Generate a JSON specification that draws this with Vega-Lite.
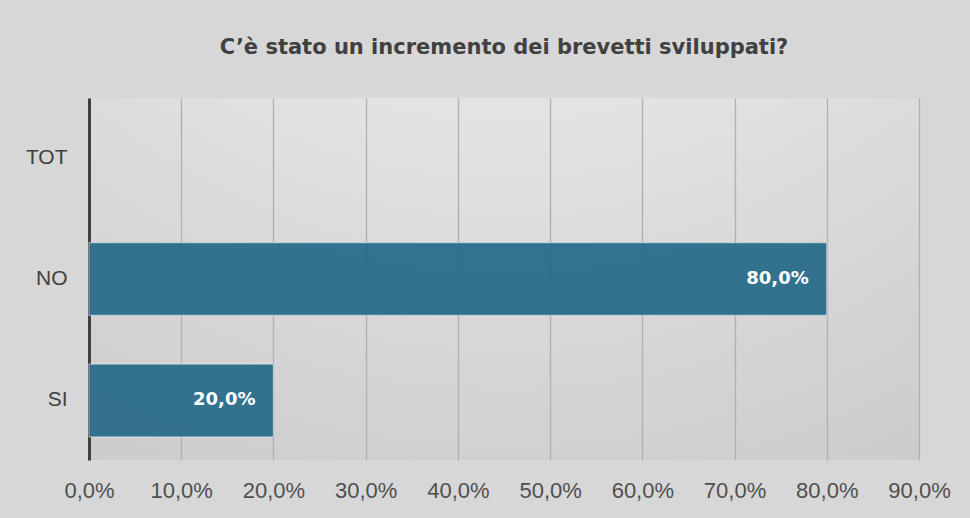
{
  "$schema": "https://vega.github.io/schema/vega-lite/v6.json",
  "width": 830,
  "height": 362,
  "autosize": {"type": "none"},
  "padding": {"left": 89, "top": 98, "right": 51, "bottom": 58},
  "background": "#d7d7d7",
  "title": {
    "text": "C’è stato un incremento dei brevetti sviluppati?",
    "font": "DejaVu Sans",
    "fontSize": 21,
    "fontWeight": "bold",
    "color": "#404040",
    "anchor": "middle",
    "offset": 40
  },
  "config": {
    "locale": {"number": {"decimal": ",", "thousands": ".", "grouping": [3], "currency": ["€", ""]}},
    "view": {
      "stroke": null,
      "fill": {
        "gradient": "radial",
        "x1": 0.5, "y1": -0.3, "r1": 0,
        "x2": 0.5, "y2": -0.3, "r2": 1.15,
        "stops": [
          {"offset": 0, "color": "#fdfdfd"},
          {"offset": 1, "color": "#cbcbcb"}
        ]
      }
    }
  },
  "data": {
    "values": [
      {"risposta": "TOT", "valore": null},
      {"risposta": "NO", "valore": 0.8},
      {"risposta": "SI", "valore": 0.2}
    ]
  },
  "encoding": {
    "y": {
      "field": "risposta",
      "type": "nominal",
      "sort": null,
      "scale": {"domain": ["TOT", "NO", "SI"], "paddingInner": 0.4, "paddingOuter": 0.19},
      "axis": {
        "title": null,
        "ticks": false,
        "domainColor": "#404040",
        "domainWidth": 3,
        "labelFont": "Liberation Sans",
        "labelFontSize": 21,
        "labelColor": "#404040",
        "labelPadding": 22
      }
    },
    "x": {
      "field": "valore",
      "type": "quantitative",
      "scale": {"domain": [0, 0.9], "nice": false},
      "axis": {
        "title": null,
        "format": ".1%",
        "values": [0, 0.1, 0.2, 0.3, 0.4, 0.5, 0.6, 0.7, 0.8, 0.9],
        "ticks": false,
        "domain": false,
        "grid": true,
        "gridColor": "#b0b0b0",
        "gridWidth": 1.3,
        "labelFlush": false,
        "labelFont": "Liberation Sans",
        "labelFontSize": 22,
        "labelColor": "#4f4f4f",
        "labelPadding": 20
      }
    }
  },
  "layer": [
    {
      "mark": {"type": "bar", "color": "#2b6d8c", "opacity": 0.95, "stroke": "#ffffff", "strokeOpacity": 0.5, "strokeWidth": 1.2}
    },
    {
      "transform": [{"filter": "datum.valore != null"}],
      "mark": {"type": "text", "align": "right", "dx": -18, "color": "#ffffff", "font": "DejaVu Sans", "fontSize": 18, "fontWeight": "bold"},
      "encoding": {
        "text": {"field": "valore", "type": "quantitative", "format": ".1%"}
      }
    }
  ]
}
